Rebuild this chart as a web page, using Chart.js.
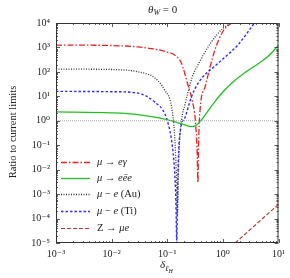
<!DOCTYPE html>
<html>
<head>
<meta charset="utf-8">
<script src="https://cdn.jsdelivr.net/npm/chart.js@4.4.1/dist/chart.umd.min.js"></script>
<style>
  body{margin:0;background:#fff;}
  #wrap{width:290px;height:278px;}
</style>
</head>
<body>
<div id="wrap"><canvas id="mychart" width="290" height="278"></canvas></div>
<script>
'use strict';
// values (delta on x, ratio on y)
const deltaEgamma = [0.001, 0.003, 0.01, 0.03, 0.06, 0.1, 0.135, 0.18, 0.23, 0.28, 0.32, 0.345, 0.356, 0.365, 0.39, 0.48, 0.72, 1.0, 1.4];
const ratioEgamma = [1250, 1240, 1200, 1050, 850, 650, 490, 230, 35, 7, 1, 0.05, 0.003, 0.1, 3, 25, 800, 4500, 10000];

const deltaEee = [0.001, 0.01, 0.03, 0.06, 0.11, 0.15, 0.2, 0.27, 0.31, 0.4, 0.68, 1.0, 1.5, 2.6, 4.5, 6.9, 10];
const ratioEee = [2.3, 2.1, 1.8, 1.4, 1.05, 0.85, 0.7, 0.58, 0.6, 1.0, 5.2, 15, 38, 100, 230, 490, 1250];

const deltaAu = [0.001, 0.01, 0.03, 0.06, 0.09, 0.12, 0.135, 0.145, 0.153, 0.158, 0.165, 0.18, 0.21, 0.28, 0.36, 0.6, 1.0, 1.45];
const ratioAu = [130, 125, 100, 56, 18, 3.6, 0.3, 0.01, 0.00016, 0.005, 0.1, 1, 5, 60, 200, 1500, 6000, 10000];

const deltaTi = [0.001, 0.01, 0.03, 0.06, 0.09, 0.105, 0.12, 0.135, 0.143, 0.148, 0.153, 0.16, 0.175, 0.21, 0.27, 0.36, 0.83, 1.86, 3.7];
const ratioTi = [16, 15.5, 13.5, 5.8, 2, 0.7, 0.15, 0.01, 0.0005, 0.000012, 0.001, 0.05, 0.5, 1.4, 9, 35, 230, 1260, 10000];

const deltaZ = [1.66, 10];
const ratioZ = [0.00001, 0.00038];

const xTicks = [0.001, 0.01, 0.1, 1, 10];
const yTicks = [1e-5, 1e-4, 1e-3, 1e-2, 1e-1, 1, 10, 100, 1000, 10000];

// legend text pieces: [text, italic]
const legendLabels = [
  [['μ', true], [' → ', false], ['eγ', true]],
  [['μ', true], [' → ', false], ['eēe', true]],
  [['μ', true], [' − ', false], ['e', true], [' (Au)', false]],
  [['μ', true], [' − ', false], ['e', true], [' (Ti)', false]],
  [['Z', false], [' → ', false], ['μe', true]]
];

const serif = '"Liberation Serif", "DejaVu Serif", serif';
const sup = {'-':'⁻','0':'⁰','1':'¹','2':'²','3':'³','4':'⁴','5':'⁵','6':'⁶','7':'⁷','8':'⁸','9':'⁹'};
function powLabel(v){
  let e = String(Math.round(Math.log10(v)));
  return '10' + e.split('').map(c => sup[c]).join('');
}
function pts(xs, ys){ return xs.map((x, i) => ({x: x, y: ys[i]})); }

function line(label, xs, ys, color, dash, width){
  return {label: label, data: pts(xs, ys), borderColor: color, borderDash: dash, borderWidth: width || 1.2,
    pointRadius: 0, fill: false, cubicInterpolationMode: 'monotone'};
}

const datasets = [
  line('unity', [0.001, 10], [1, 1], '#a8a8a8', [1, 1], 1),
  line('Z', deltaZ, ratioZ, '#b03a3a', [4, 2], 1.2),
  line('eee', deltaEee, ratioEee, '#1fc01f', [], 1.3),
  line('Ti', deltaTi, ratioTi, '#2a2aff', [2.5, 2], 1.4),
  line('Au', deltaAu, ratioAu, '#333333', [1, 1.5], 1.3),
  line('egamma', deltaEgamma, ratioEgamma, '#e82020', [6, 2, 1.5, 2], 1.3)
];
const legendOrder = ['egamma', 'eee', 'Au', 'Ti', 'Z'];

const decor = {
  id: 'decor',
  afterDatasetsDraw(chart){
    const ctx = chart.ctx, a = chart.chartArea;
    const xs = chart.scales.x, ys = chart.scales.y;
    ctx.save();
    ctx.strokeStyle = '#333';
    ctx.lineWidth = 0.8;
    // inward ticks on all sides
    function ticksFor(scale, lo, hi, horiz){
      for (let d = lo; d <= hi; d++){
        for (let k = 1; k <= 9; k++){
          const v = k * Math.pow(10, d);
          if (v < scale.min * 0.999 || v > scale.max * 1.001) continue;
          const p = Math.round(scale.getPixelForValue(v)) + 0.5;
          const len = k === 1 ? 4 : 2;
          ctx.beginPath();
          if (horiz){
            ctx.moveTo(p, a.bottom); ctx.lineTo(p, a.bottom - len);
            ctx.moveTo(p, a.top); ctx.lineTo(p, a.top + len);
          } else {
            ctx.moveTo(a.left, p); ctx.lineTo(a.left + len, p);
            ctx.moveTo(a.right, p); ctx.lineTo(a.right - len, p);
          }
          ctx.stroke();
        }
      }
    }
    ticksFor(xs, -3, 1, true);
    ticksFor(ys, -5, 4, false);
    ctx.lineWidth = 1;
    ctx.strokeRect(a.left + 0.5, a.top + 0.5, a.right - a.left - 1, a.bottom - a.top - 1);

    // legend
    const rowY = [162, 178, 194, 211, 228];
    ctx.textBaseline = 'middle';
    legendOrder.forEach((key, i) => {
      const ds = chart.data.datasets.find(d => d.label === key);
      const y = rowY[i];
      ctx.save();
      ctx.strokeStyle = ds.borderColor;
      ctx.lineWidth = ds.borderWidth;
      ctx.setLineDash(ds.borderDash);
      ctx.beginPath();
      ctx.moveTo(61, y + 0.5); ctx.lineTo(90, y + 0.5);
      ctx.stroke();
      ctx.restore();
      let x = 97;
      ctx.fillStyle = '#222';
      legendLabels[i].forEach(seg => {
        ctx.font = (seg[1] ? 'italic ' : '') + '10.5px ' + serif;
        ctx.fillText(seg[0], x, y);
        x += ctx.measureText(seg[0]).width;
      });
    });

    // title
    ctx.fillStyle = '#222';
    ctx.textBaseline = 'alphabetic';
    ctx.font = 'italic 11px ' + serif;
    let tx = 148;
    ctx.fillText('θ', tx, 13); tx += ctx.measureText('θ').width;
    ctx.font = 'italic 8px ' + serif;
    ctx.fillText('W', tx, 15); tx += ctx.measureText('W').width;
    ctx.font = '11px ' + serif;
    ctx.fillText(' = 0', tx, 13);

    // x title
    ctx.font = 'italic 11px ' + serif;
    let ax = 160;
    ctx.fillText('δ', ax, 268); ax += ctx.measureText('δ').width;
    ctx.font = 'italic 8px ' + serif;
    ctx.fillText('ℓ', ax, 271); ax += ctx.measureText('ℓ').width;
    ctx.font = 'italic 6px ' + serif;
    ctx.fillText('H', ax, 273);

    // y title
    ctx.translate(13, 132);
    ctx.rotate(-Math.PI / 2);
    ctx.textAlign = 'center';
    ctx.textBaseline = 'middle';
    ctx.font = '10.5px ' + serif;
    ctx.fillText('Ratio to current limits', 0, 0);
    ctx.restore();
  }
};

let mychart = document.getElementById('mychart').getContext('2d');
let linechart = new Chart(mychart, {
  type: 'line',
  data: {datasets: datasets},
  options: {
    responsive: false,
    animation: false,
    devicePixelRatio: 1,
    layout: {padding: {top: 23, right: 9, left: 0, bottom: 0}},
    plugins: {legend: {display: false}, title: {display: false}, tooltip: {enabled: false}},
    scales: {
      x: {
        type: 'logarithmic', min: 0.001, max: 10,
        afterBuildTicks: s => { s.ticks = xTicks.map(v => ({value: v})); },
        afterFit: s => { s.height = 35; },
        grid: {display: false, drawTicks: false},
        border: {display: false},
        ticks: {callback: v => powLabel(v), color: '#222', font: {family: serif, size: 10}, padding: 5, maxRotation: 0, autoSkip: false}
      },
      y: {
        type: 'logarithmic', min: 1e-5, max: 1e4,
        afterBuildTicks: s => { s.ticks = yTicks.map(v => ({value: v})); },
        afterFit: s => { s.width = 56; },
        grid: {display: false, drawTicks: false},
        border: {display: false},
        ticks: {callback: v => powLabel(v), color: '#222', font: {family: serif, size: 10}, padding: 6, autoSkip: false}
      }
    }
  },
  plugins: [decor]
});
</script>
</body>
</html>
